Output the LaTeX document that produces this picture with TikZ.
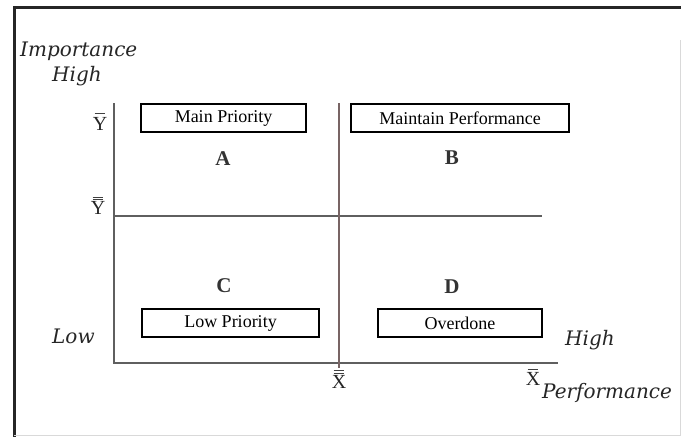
\documentclass[tikz,border=0pt]{standalone}
\usepackage{fontspec}
\setmainfont{Liberation Serif}
\newfontfamily\labfont{DejaVu Serif}
\usepackage{tikz}
\usetikzlibrary{positioning}
\definecolor{axisgray}{RGB}{95,95,95}
\definecolor{midbrown}{RGB}{120,100,100}

\begin{document}
\begin{tikzpicture}[x=1pt, y=-1pt,
    qbox/.style={draw, line width=1.1pt, minimum height=28pt, inner sep=0pt,
                 font=\fontsize{18}{20}\selectfont},
    axis/.style={axisgray, line width=2pt},
    letter/.style={font=\fontsize{21}{23}\selectfont\bfseries, text=black!80},
    lab/.style={anchor=base west, inner sep=0pt, text=black!85,
                font=\fontsize{20}{22}\selectfont\labfont\itshape},
    mean/.style={inner sep=0pt, text=black!85, font=\fontsize{20}{22}\selectfont},
    barline/.style={black!75, line width=1pt},
]
\useasboundingbox (0,0) rectangle (681,437);

% frame
\draw[line width=3pt, black!85] (14,437) -- (14,7) -- (681,7);
\draw[line width=0.8pt, black!15] (680,40) -- (680,435) -- (14,435);

% axes and mean lines
\coordinate (ytop) at (114,103);
\coordinate (orig) at (114,363);
\coordinate (xend) at (558,363);
\coordinate (mtop) at (339,103);
\coordinate (mbot) at (339,368);
\coordinate (hleft) at (114,216);
\coordinate (hright) at (542,216);
\draw[axis] (ytop) -- (orig) -- (xend);
\draw[axis] (hleft) -- (hright);
\draw[midbrown, line width=2pt] (mtop) -- (mbot);

% quadrant boxes
\node[qbox, minimum width=165pt] (mainp) at (223.5,118) {Main Priority};
\node[qbox, minimum width=218pt] (maint) at (460,118) {Maintain Performance};
\node[qbox, minimum width=177pt] (lowp) at (230.5,323) {Low Priority};
\node[qbox, minimum width=164pt] (overd) at (460,323) {Overdone};

% quadrant letters
\node[letter] (qa) at (223,159) {A};
\node[letter] (qb) at (452,158) {B};
\node[letter] (qc) at (224,286) {C};
\node[letter] (qd) at (452,287) {D};

% mean labels, bars drawn over the letters
\node[mean] (ybar) at (100,123.5) {Y};
\draw[barline] ([xshift=2pt,yshift=3pt]ybar.north west) -- ([xshift=-2pt,yshift=3pt]ybar.north east);
\node[mean] (ydbar) at (98,208) {Y};
\draw[barline] ([xshift=2pt,yshift=1.5pt]ydbar.north west) -- ([xshift=-2pt,yshift=1.5pt]ydbar.north east);
\draw[barline] ([xshift=2pt,yshift=4pt]ydbar.north west) -- ([xshift=-2pt,yshift=4pt]ydbar.north east);
\node[mean] (xdbar) at (339,382) {X};
\draw[barline] ([xshift=2pt,yshift=2pt]xdbar.north west) -- ([xshift=-2pt,yshift=2pt]xdbar.north east);
\draw[barline] ([xshift=2pt,yshift=4.5pt]xdbar.north west) -- ([xshift=-2pt,yshift=4.5pt]xdbar.north east);
\node[mean] (xbar) at (533,378.5) {X};
\draw[barline] ([xshift=2pt,yshift=2.5pt]xbar.north west) -- ([xshift=-2pt,yshift=2.5pt]xbar.north east);

% axis labels
\node[lab] (imp) at (20,56) {Importance};
\node[lab] (yhigh) at (52,81) {High};
\node[lab] (ylow) at (52,343) {Low};
\node[lab] (xhigh) at (565,345) {High};
\node[lab] (perf) at (542,398) {Performance};
\end{tikzpicture}
\end{document}
